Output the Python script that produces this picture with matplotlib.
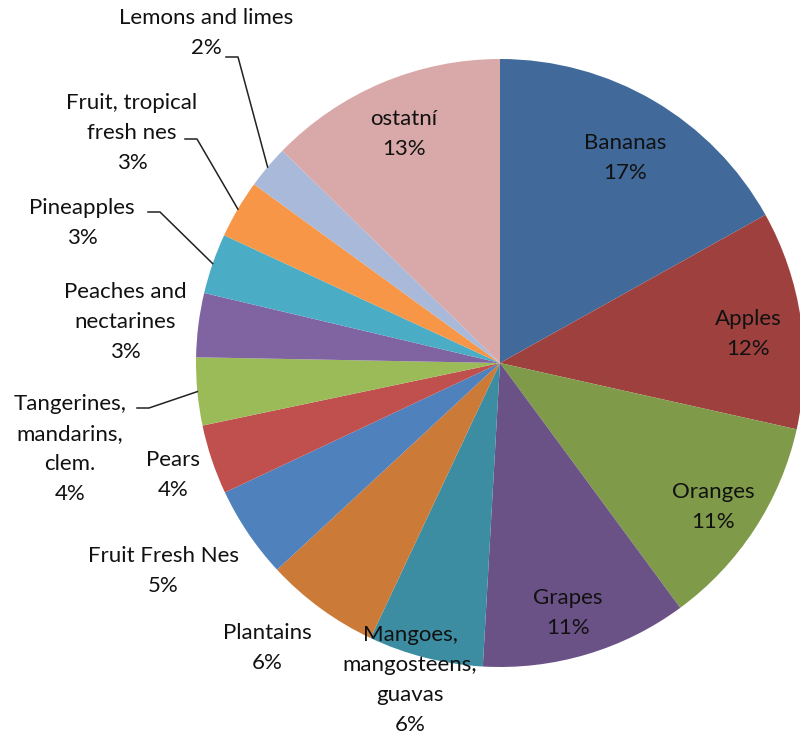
import numpy as np
import matplotlib; matplotlib.use("Agg"); import matplotlib.pyplot as plt

# share of world fruit production (%), clockwise from 12 o'clock
labels = ["Bananas", "Apples", "Oranges", "Grapes", "Mangoes,\nmangosteens,\nguavas", "Plantains",
          "Fruit Fresh Nes", "Pears", "Tangerines,\nmandarins,\nclem.", "Peaches and\nnectarines",
          "Pineapples", "Fruit, tropical\nfresh nes", "Lemons and limes", "ostatní"]
values = [16.9, 11.6, 11.4, 11.0, 6.1, 6.1, 4.9, 3.7, 3.6, 3.4, 3.2, 3.1, 2.3, 12.7]
colors = ["#416a9b", "#9e413e", "#7f9a48", "#6a5186", "#3c8da2", "#cb7a38", "#4f81bd",
          "#c0504d", "#9bbb59", "#8064a2", "#4bacc6", "#f79646", "#a9b9d9", "#d9a9a9"]

# label centres in pixel coords (x right, y down) and leader start points
label_xy = [(625, 158), (748, 334), (713, 507), (568, 613), (410, 680), (267, 648),
            (163, 571), (173, 475), (70, 449), (125, 322), (82, 223), (132, 133), (206, 33), (404, 134)]
leaders = {12: (226, 57), 11: (185, 139), 10: (148, 212), 8: (137, 408)}

W, H = 800, 744
CX, CY, R = 500, 363, 304

fig = plt.figure(figsize=(W / 100, H / 100), dpi=100)
ax = fig.add_axes([0, 0, 1, 1])
wedges, _ = ax.pie(values, colors=colors, startangle=90, counterclock=False,
                   center=(CX, H - CY), radius=R, wedgeprops=dict(linewidth=0))
ax.set_xlim(0, W); ax.set_ylim(0, H); ax.set_aspect("equal"); ax.axis("off")

total = sum(values)
for i, (name, v) in enumerate(zip(labels, values)):
    x, y = label_xy[i]
    ax.text(x, H - y, f"{name}\n{round(100 * v / total)}%", ha="center", va="center",
            multialignment="center", fontsize=16, family=["Lato", "DejaVu Sans"],
            color="#111111", linespacing=1.62)
    if i in leaders:
        w = wedges[i]
        mid = np.deg2rad((w.theta1 + w.theta2) / 2)
        ex, ey = CX + R * np.cos(mid), (H - CY) + R * np.sin(mid)
        sx, sy = leaders[i]
        ax.plot([sx, sx + 12, ex], [H - sy, H - sy, ey], color="#222222", lw=1.1)

fig.savefig("out.png", dpi=100)
